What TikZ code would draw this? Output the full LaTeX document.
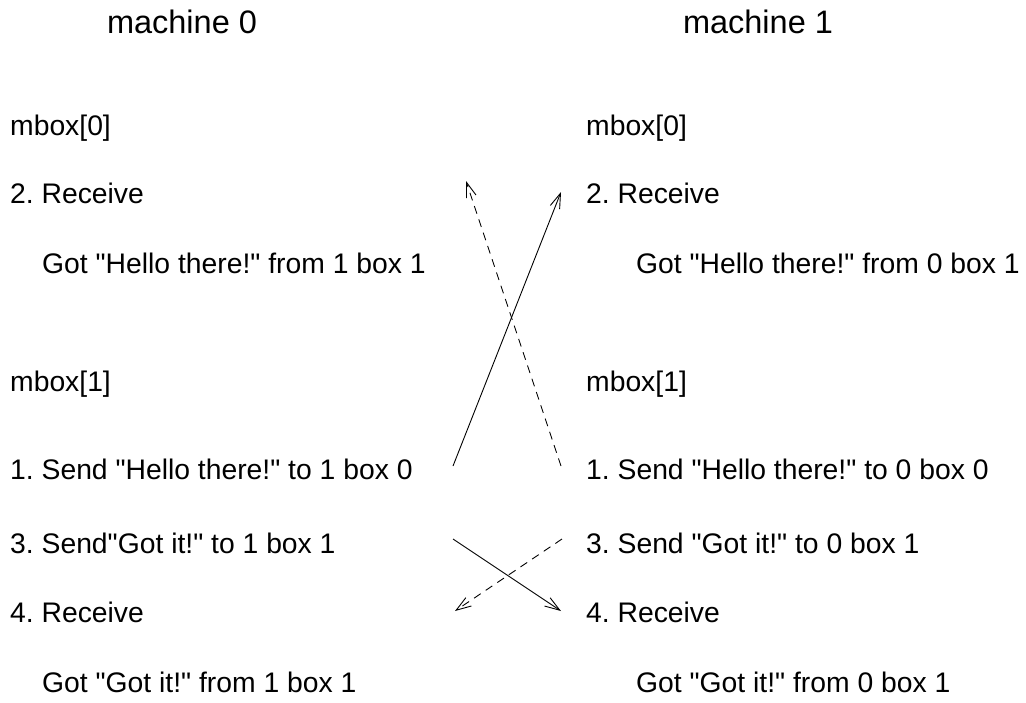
\documentclass[tikz,border=0pt]{standalone}
\usepackage{fontspec}
\setmainfont{Liberation Sans}[Ligatures=TeXOff]
\usetikzlibrary{arrows.meta}
\frenchspacing
\begin{document}
\begin{tikzpicture}[x=1pt,y=-1pt,
  title/.style={font=\fontsize{32.5}{38}\selectfont, inner sep=0pt},
  txt/.style={font=\fontsize{28.3}{34}\selectfont, anchor=west, inner sep=0pt},
  msg/.style={line width=0.9pt, -{Straight Barb[length=15pt,width=10pt,line width=0.9pt]}},
  msgd/.style={msg, dash pattern=on 8pt off 6pt}]
\useasboundingbox (0,0) rectangle (1026,702);
% titles
\node[title] (t0) at (182,22) {machine 0};
\node[title] (t1) at (758,22) {machine 1};
% left column
\node[txt] (l1) at (10,128) {mbox[0]};
\node[txt] (l2) at (10,193) {2. Receive};
\node[txt] (l3) at (42,263) {Got "Hello there!" from 1 box 1};
\node[txt] (l4) at (10,384) {mbox[1]};
\node[txt] (l5) at (10,469) {1. Send "Hello there!" to 1 box 0};
\node[txt] (l6) at (10,543) {3. Send"Got it!" to 1 box 1};
\node[txt] (l7) at (10,612) {4. Receive};
\node[txt] (l8) at (42,682) {Got "Got it!" from 1 box 1};
% right column
\node[txt] (r1) at (586,128) {mbox[0]};
\node[txt] (r2) at (586,193) {2. Receive};
\node[txt] (r3) at (636,263) {Got "Hello there!" from 0 box 1};
\node[txt] (r4) at (586,384) {mbox[1]};
\node[txt] (r5) at (586,469) {1. Send "Hello there!" to 0 box 0};
\node[txt] (r6) at (586,543) {3. Send "Got it!" to 0 box 1};
\node[txt] (r7) at (586,612) {4. Receive};
\node[txt] (r8) at (636,682) {Got "Got it!" from 0 box 1};
% arrow end points
\coordinate (a1s) at (453,466);
\coordinate (a1e) at (561,192);
\coordinate (a2s) at (561,466);
\coordinate (a2e) at (466,181);
\coordinate (a3s) at (453,539);
\coordinate (a3e) at (561,611);
\coordinate (a4s) at (562,539);
\coordinate (a4e) at (455,611);
\draw[msg] (a1s) -- (a1e);
\draw[msgd] (a2s) -- (a2e);
\draw[msg] (a3s) -- (a3e);
\draw[msgd] (a4s) -- (a4e);
\end{tikzpicture}
\end{document}
